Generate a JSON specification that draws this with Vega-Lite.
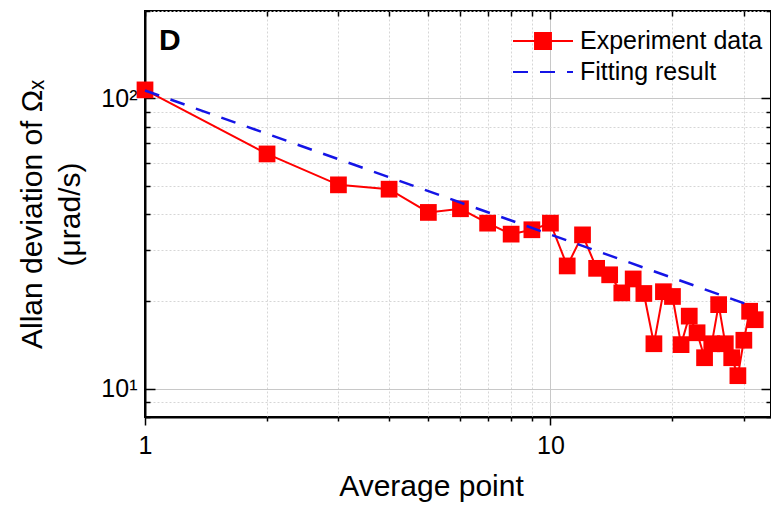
{
  "$schema": "https://vega.github.io/schema/vega-lite/v6.json",
  "width": 626,
  "height": 406,
  "autosize": {"type": "none"},
  "padding": {"left": 145, "top": 11, "right": 0, "bottom": 93},
  "background": "white",
  "title": {
    "text": "D",
    "anchor": "start",
    "frame": "group",
    "orient": "none",
    "font": "Liberation Sans",
    "fontSize": 30,
    "fontWeight": "bold",
    "color": "black",
    "baseline": "alphabetic",
    "offset": 0,
    "dx": 14,
    "dy": 39
  },
  "config": {
    "font": "Liberation Sans",
    "view": {"stroke": "black", "strokeWidth": 2},
    "legend": {
      "orient": "none",
      "legendX": 382,
      "legendY": 14,
      "padding": 0,
      "title": null,
      "labelFont": "Liberation Sans",
      "labelFontSize": 25,
      "labelColor": "black",
      "labelLimit": 400,
      "labelOffset": 21,
      "rowPadding": 2,
      "symbolSize": 900,
      "symbolStrokeWidth": 2
    }
  },
  "datasets": {
    "experiment": [
      {"n": 1, "adev": 107, "series": "Experiment data"},
      {"n": 2, "adev": 64.4, "series": "Experiment data"},
      {"n": 3, "adev": 50.4, "series": "Experiment data"},
      {"n": 4, "adev": 48.7, "series": "Experiment data"},
      {"n": 5, "adev": 40.5, "series": "Experiment data"},
      {"n": 6, "adev": 41.7, "series": "Experiment data"},
      {"n": 7, "adev": 37.2, "series": "Experiment data"},
      {"n": 8, "adev": 34.1, "series": "Experiment data"},
      {"n": 9, "adev": 35.3, "series": "Experiment data"},
      {"n": 10, "adev": 37.2, "series": "Experiment data"},
      {"n": 11, "adev": 26.5, "series": "Experiment data"},
      {"n": 12, "adev": 33.9, "series": "Experiment data"},
      {"n": 13, "adev": 26.0, "series": "Experiment data"},
      {"n": 14, "adev": 24.7, "series": "Experiment data"},
      {"n": 15, "adev": 21.4, "series": "Experiment data"},
      {"n": 16, "adev": 23.9, "series": "Experiment data"},
      {"n": 17, "adev": 21.3, "series": "Experiment data"},
      {"n": 18, "adev": 14.3, "series": "Experiment data"},
      {"n": 19, "adev": 21.6, "series": "Experiment data"},
      {"n": 20, "adev": 20.8, "series": "Experiment data"},
      {"n": 21, "adev": 14.2, "series": "Experiment data"},
      {"n": 22, "adev": 17.8, "series": "Experiment data"},
      {"n": 23, "adev": 15.6, "series": "Experiment data"},
      {"n": 24, "adev": 12.8, "series": "Experiment data"},
      {"n": 25, "adev": 14.3, "series": "Experiment data"},
      {"n": 26, "adev": 19.5, "series": "Experiment data"},
      {"n": 27, "adev": 14.3, "series": "Experiment data"},
      {"n": 28, "adev": 12.8, "series": "Experiment data"},
      {"n": 29, "adev": 11.1, "series": "Experiment data"},
      {"n": 30, "adev": 14.7, "series": "Experiment data"},
      {"n": 31, "adev": 18.5, "series": "Experiment data"},
      {"n": 32, "adev": 17.3, "series": "Experiment data"}
    ],
    "fit": [
      {"n": 1, "adev": 106.5, "series": "Fitting result"},
      {"n": 32, "adev": 19.1, "series": "Fitting result"}
    ]
  },
  "layer": [
    {
      "data": {"name": "experiment"},
      "mark": {
        "type": "line",
        "strokeWidth": 2,
        "point": {"filled": true, "shape": "square", "size": 280, "opacity": 1}
      },
      "encoding": {
        "x": {
          "field": "n",
          "type": "quantitative",
          "scale": {"type": "log", "domain": [1, 35], "nice": false},
          "axis": {
            "orient": "bottom",
            "values": [1, 2, 3, 4, 5, 6, 7, 8, 9, 10, 20, 30],
            "labelExpr": "datum.value == 1 ? '1' : datum.value == 10 ? '10' : ''",
            "labelFontSize": 25,
            "labelColor": "black",
            "labelPadding": 8,
            "labelFlush": false,
            "labelOverlap": false,
            "domainColor": "black",
            "domainWidth": 2,
            "tickColor": "black",
            "tickWidth": 1.5,
            "tickSize": {"condition": {"test": "datum.value == 1 || datum.value == 10", "value": 8}, "value": 4},
            "grid": true,
            "gridColor": {"condition": {"test": "datum.value == 10", "value": "#c8c8c8"}, "value": "#d6d6d6"},
            "gridDash": {"condition": {"test": "datum.value == 10", "value": []}, "value": [2, 2]},
            "gridWidth": 1,
            "title": "Average point",
            "titleFontSize": 30,
            "titleFontWeight": "normal",
            "titleColor": "black",
            "titleAlign": "center",
            "titleBaseline": "alphabetic",
            "titleX": 286,
            "titleY": 78
          }
        },
        "y": {
          "field": "adev",
          "type": "quantitative",
          "scale": {"type": "log", "domain": [8, 200], "nice": false},
          "axis": {
            "orient": "left",
            "values": [8, 9, 10, 20, 30, 40, 50, 60, 70, 80, 90, 100, 200],
            "labelExpr": "datum.value == 100 ? '10²' : datum.value == 10 ? '10¹' : ''",
            "labelFontSize": 25,
            "labelColor": "black",
            "labelPadding": 18,
            "labelOverlap": false,
            "domainColor": "black",
            "domainWidth": 2,
            "tickColor": "black",
            "tickWidth": 1.5,
            "tickSize": {"condition": {"test": "datum.value == 10 || datum.value == 100", "value": -10}, "value": -5},
            "grid": true,
            "gridColor": {"condition": {"test": "datum.value == 10 || datum.value == 100", "value": "#c8c8c8"}, "value": "#d6d6d6"},
            "gridDash": {"condition": {"test": "datum.value == 10 || datum.value == 100", "value": []}, "value": [2, 2]},
            "gridWidth": 1,
            "title": ["Allan deviation of Ωₓ", "(μrad/s)"],
            "titleFontSize": 30,
            "titleFontWeight": "normal",
            "titleColor": "black",
            "titleAngle": -90,
            "titleAlign": "center",
            "titleBaseline": "top",
            "titleLineHeight": 38,
            "titleX": -128,
            "titleY": 203
          }
        },
        "color": {
          "field": "series",
          "type": "nominal",
          "scale": {"domain": ["Experiment data", "Fitting result"], "range": ["#ff0000", "#1414e6"]},
          "legend": {
            "encode": {
              "symbols": {
                "update": {
                  "shape": {"signal": "datum.value == 'Experiment data' ? 'M-2,0H-0.53M0.53,0H2M-0.53,-0.53H0.53V0.53H-0.53Z' : 'M-2,0H2'"},
                  "fill": {"signal": "datum.value == 'Experiment data' ? '#ff0000' : 'transparent'"},
                  "strokeDash": {"signal": "datum.value == 'Fitting result' ? [15, 12] : [1, 0]"}
                }
              }
            }
          }
        }
      }
    },
    {
      "data": {"name": "fit"},
      "mark": {"type": "line", "strokeWidth": 2.5, "strokeDash": [15, 12]},
      "encoding": {
        "x": {
          "field": "n",
          "type": "quantitative",
          "scale": {"type": "log", "domain": [1, 35], "nice": false},
          "axis": {
            "orient": "top",
            "values": [1, 2, 3, 4, 5, 6, 7, 8, 9, 10, 20, 30],
            "labels": false,
            "domain": false,
            "grid": false,
            "tickColor": "black",
            "tickWidth": 1.5,
            "tickSize": {"condition": {"test": "datum.value == 10", "value": -8}, "value": -5},
            "title": null
          }
        },
        "y": {
          "field": "adev",
          "type": "quantitative",
          "scale": {"type": "log", "domain": [8, 200], "nice": false},
          "axis": {
            "orient": "right",
            "values": [8, 9, 10, 20, 30, 40, 50, 60, 70, 80, 90, 100, 200],
            "labels": false,
            "domain": false,
            "grid": false,
            "tickColor": "black",
            "tickWidth": 1.5,
            "tickSize": {"condition": {"test": "datum.value == 10 || datum.value == 100", "value": -10}, "value": -5},
            "title": null
          }
        },
        "color": {"field": "series", "type": "nominal"}
      }
    }
  ],
  "resolve": {"axis": {"x": "independent", "y": "independent"}}
}
